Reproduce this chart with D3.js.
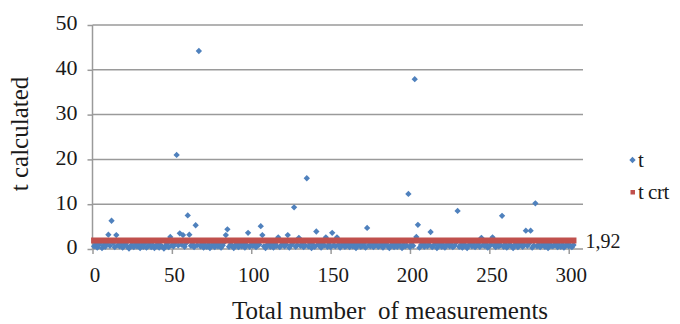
<!DOCTYPE html>
<html><head><meta charset="utf-8">
<script src="https://cdn.jsdelivr.net/npm/d3@7"></script>
<style>body{margin:0;background:#fff}svg{display:block}svg text{font-family:"Liberation Serif","Times New Roman",serif;fill:#1a1a1a}</style>
</head><body><svg id="c" width="680" height="324" font-family="Liberation Serif"></svg>
<script>
// t calculated for measurement #1..#303
const tValues = [
0.6,1.1,0.3,0.9,1.4,0.2,0.8,0.5,1.2,3.2,
0.7,6.3,1.3,0.4,3.1,0.9,0.6,1.0,0.3,0.8,
1.2,0.5,0.1,0.7,1.5,0.4,0.9,0.6,1.1,0.2,
0.8,0.5,1.3,0.3,0.7,1.0,0.4,0.9,0.2,0.6,
1.1,0.3,0.8,0.5,0.1,0.7,1.2,0.4,2.7,0.9,
0.6,1.4,21.0,0.8,3.5,1.0,3.1,0.5,1.3,7.5,
3.2,0.7,1.1,0.4,5.3,0.9,44.2,0.6,1.2,0.3,
0.8,0.5,1.0,0.2,0.7,1.3,0.4,0.9,0.6,1.1,
0.3,0.8,1.5,3.1,4.4,0.5,1.0,0.7,0.2,0.9,
1.2,0.4,0.8,0.6,1.1,0.3,0.9,3.6,0.5,1.0,
0.7,1.3,0.4,0.8,1.0,5.1,3.1,0.6,0.2,0.9,
1.1,0.5,0.8,0.3,1.2,0.7,2.6,0.4,0.9,1.4,
0.6,1.0,3.1,0.3,0.8,1.2,9.3,0.5,0.9,2.5,
0.7,1.1,0.4,0.8,15.8,0.6,1.3,0.2,0.9,0.5,
3.9,1.0,0.7,0.3,1.2,0.8,2.6,0.5,1.1,0.4,
3.6,0.9,0.6,2.6,1.0,0.3,0.8,1.2,0.5,0.7,
1.1,0.4,0.9,0.6,1.3,0.2,0.8,1.0,0.5,0.7,
1.2,0.3,4.7,0.9,0.6,1.1,0.4,0.8,1.4,0.5,
0.7,1.0,0.3,0.9,1.2,0.6,0.2,0.8,1.1,0.4,
0.9,0.5,1.3,0.7,0.2,1.0,0.6,0.8,12.3,0.4,
1.1,0.7,37.9,2.7,5.4,0.3,0.9,1.2,0.5,0.8,
0.6,1.0,3.8,0.4,0.8,1.3,0.2,0.7,1.1,0.5,
0.9,0.3,0.8,1.2,0.6,1.0,0.4,0.7,1.4,8.5,
0.5,0.9,0.3,1.1,0.7,0.2,0.8,1.2,0.6,1.0,
0.4,0.8,1.3,0.5,2.5,0.9,0.7,1.1,0.3,0.6,
1.0,2.6,0.8,0.4,1.2,0.6,0.9,7.4,0.5,1.1,
0.3,0.7,1.0,0.6,0.2,0.9,1.3,0.4,0.8,1.1,
0.5,0.9,4.1,0.7,1.2,4.1,0.3,0.8,10.2,0.6,
1.0,0.4,0.8,1.3,0.5,0.9,0.2,1.1,0.7,0.6,
0.9,1.2,0.4,0.8,0.5,1.0,0.3,0.7,1.1,0.6,
0.8,0.4,0.9
];
const tCrit = 1.92;
const tCritLabel = "1,92";
const xTicks = [0, 50, 100, 150, 200, 250, 300];
const yTicks = [0, 10, 20, 30, 40, 50];
const seriesNames = ["t", "t crt"];
const xTitle = "Total number  of measurements";
const yTitle = "t calculated";

const FONT = "Liberation Serif";
const svg = d3.select("#c");
const x = d3.scaleLinear().domain([0, 309]).range([92.5, 583]);
const y = d3.scaleLinear().domain([0, 50]).range([249, 25]);
const blue = "#4F81BD", red = "#C0504D", grid = "#9a9a9a";

// gridlines + y axis
const yAx = svg.append("g").attr("transform", "translate(92.5,0)")
  .call(d3.axisLeft(y).tickValues(yTicks).tickSize(5).tickPadding(10).tickFormat(d3.format("d")));
yAx.attr("font-family", FONT);
yAx.select(".domain").attr("stroke", grid).attr("stroke-width", 1.5).attr("d", "M0,25V249");
yAx.selectAll(".tick line").attr("stroke", grid).attr("stroke-width", 1.5);
yAx.selectAll(".tick text").attr("font-size", 22).attr("dy", "0.22em").attr("font-family", FONT).attr("fill", "#1a1a1a");
svg.append("g").selectAll("line").data(yTicks.filter(d => d > 0)).join("line")
  .attr("x1", 92.5).attr("x2", 583).attr("y1", d => y(d)).attr("y2", d => y(d))
  .attr("stroke", grid).attr("stroke-width", 1.5);

// x axis
const xAx = svg.append("g").attr("transform", "translate(0,249)")
  .call(d3.axisBottom(x).tickValues(xTicks).tickSize(5).tickPadding(13).tickFormat(d3.format("d")));
xAx.attr("font-family", FONT);
xAx.select(".domain").attr("stroke", grid).attr("stroke-width", 1.5).attr("d", "M92.5,0H583");
xAx.selectAll(".tick line").attr("stroke", grid).attr("stroke-width", 1.5);
xAx.selectAll(".tick text").attr("font-size", 21).attr("dx", "0.1em").attr("font-family", FONT).attr("fill", "#1a1a1a");

// t points (diamonds)
const diamond = d3.symbol().type(d3.symbolSquare).size(20);
svg.append("g").selectAll("path").data(tValues).join("path")
  .attr("d", diamond)
  .attr("transform", (d, i) => `translate(${x(i + 1)},${y(d)}) rotate(45)`)
  .attr("fill", blue);

// t crt line
const crit = tValues.map((d, i) => [i + 1, tCrit]);
svg.append("path")
  .attr("d", d3.line().x(d => x(d[0])).y(d => y(d[1]))([crit[0], crit[crit.length - 1]]))
  .attr("stroke", red).attr("stroke-width", 6).attr("stroke-linecap", "square").attr("fill", "none");
svg.append("text").attr("x", x(crit.length) + 12).attr("y", y(tCrit) + 8)
  .attr("font-family", FONT).attr("font-size", 20).text(tCritLabel);

// legend
const lg = svg.append("g").attr("font-family", FONT);
lg.append("path").attr("d", diamond).attr("transform", "translate(632.5,160) rotate(45)").attr("fill", blue);
lg.append("rect").attr("x", 630.5).attr("y", 190).attr("width", 4.5).attr("height", 4.5).attr("fill", red);
lg.append("text").attr("x", 638).attr("y", 167).attr("font-size", 21).text(seriesNames[0]);
lg.append("text").attr("x", 638).attr("y", 199).attr("font-size", 21).attr("letter-spacing", "-0.5").text(seriesNames[1]);

// titles
svg.append("text").attr("x", 390).attr("y", 319).attr("text-anchor", "middle").attr("font-family", FONT)
  .attr("font-size", 25).attr("xml:space", "preserve").style("white-space", "pre").text(xTitle);
svg.append("text").attr("transform", "translate(28,134) rotate(-90)").attr("text-anchor", "middle").attr("font-family", FONT)
  .attr("font-size", 25).text(yTitle);
</script></body></html>
